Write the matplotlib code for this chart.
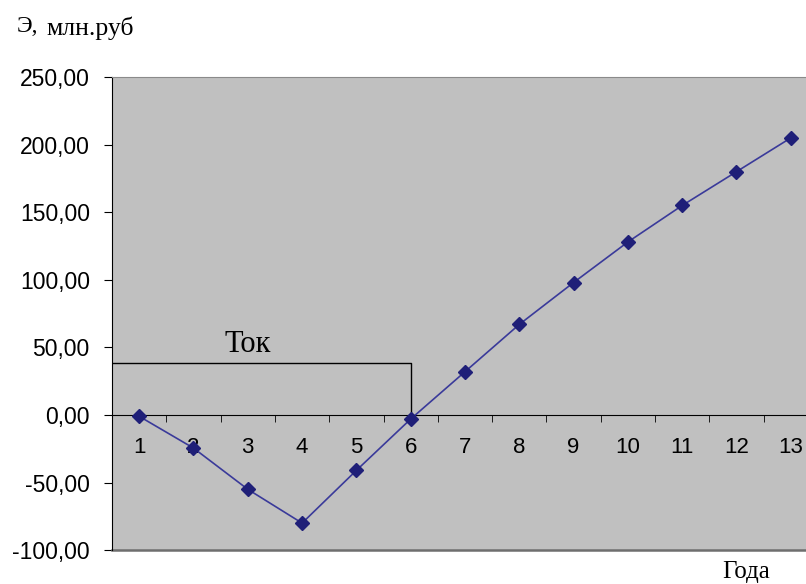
import matplotlib.pyplot as plt
import numpy as np

years = list(range(1, 14))
effect = [-1, -24.5, -55, -80, -41, -3, 32, 67, 98, 128, 155, 180, 205]
yticks = [-100, -50, 0, 50, 100, 150, 200, 250]
ytick_labels = ["-100,00", "-50,00", "0,00", "50,00", "100,00", "150,00", "200,00", "250,00"]
tok_year = 6
tok_level = 38.5

fig = plt.figure(figsize=(8.06, 5.84), dpi=100)
ax = fig.add_axes([0.139, 0.058, 0.861, 0.81])
ax.set_facecolor("#c0c0c0")

ax.plot(years, effect, color="#3a3a9a", lw=1.2, marker="D", ms=7.5,
        markerfacecolor="#1f1f78", markeredgecolor="#1f1f78", zorder=3)

# payback period marker
ax.plot([0.5, tok_year, tok_year], [tok_level, tok_level, 0], color="black", lw=1, zorder=2)
ax.text(3.0, tok_level + 3, "Ток", family="Liberation Serif", fontsize=22, ha="center", va="bottom")

ax.set_xlim(0.5, 13.28)
ax.set_ylim(-100, 250)

ax.spines["bottom"].set_position(("data", 0))
ax.spines["bottom"].set_color("black")
ax.spines["left"].set_color("black")
ax.spines["top"].set_color("#8a8a8a")
ax.spines["right"].set_visible(False)
ax.axhline(-100, color="#6e6e6e", lw=1.8, clip_on=False)

ax.set_xticks(years)
ax.set_xticklabels([str(y) for y in years], family="Liberation Sans", fontsize=16)
ax.tick_params(axis="x", which="major", length=0, pad=16)
ax.set_xticks(np.arange(1.5, 13.5, 1), minor=True)
ax.tick_params(axis="x", which="minor", length=5, direction="out", color="black")

ax.set_yticks(yticks)
ax.set_yticklabels(ytick_labels, family="Liberation Sans", fontsize=16.5)
ax.tick_params(axis="y", length=6, direction="out", pad=10)

fig.text(0.021, 0.945, "Э,", family="Liberation Serif", fontsize=17, va="baseline")
fig.text(0.058, 0.94, "млн.руб", family="Liberation Serif", fontsize=18.5, va="baseline")
fig.text(0.896, 0.002, "Года", family="Liberation Serif", fontsize=18, va="bottom")

fig.savefig("out.png", dpi=100)
